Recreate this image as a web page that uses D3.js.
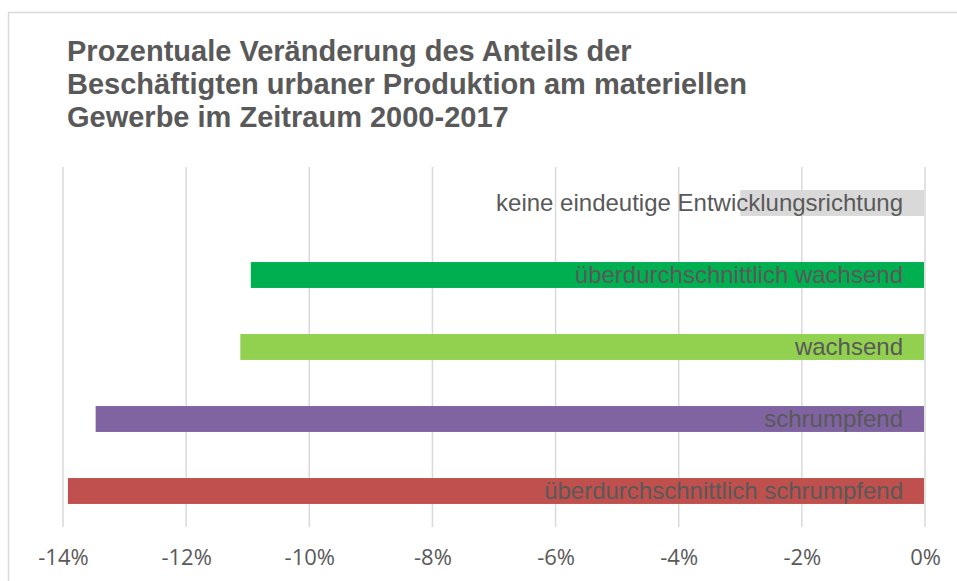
<!DOCTYPE html>
<html>
<head>
<meta charset="utf-8">
<script src="https://cdn.jsdelivr.net/npm/d3@7"></script>
<style>
  html, body { margin: 0; padding: 0; background: #fff; }
  svg { display: block; }
</style>
</head>
<body>
<svg id="chart" width="957" height="581"></svg>
<script>
// chart data
const categories = [
  'keine eindeutige Entwicklungsrichtung',
  'überdurchschnittlich wachsend',
  'wachsend',
  'schrumpfend',
  'überdurchschnittlich schrumpfend'
];
const values = [-3.0, -10.95, -11.12, -13.47, -13.92];
const barColors = ['#d9d9d9', '#00b050', '#92d050', '#8064a2', '#c0504d'];
const tickValues = [-14, -12, -10, -8, -6, -4, -2, 0];
const titleLines = [
  'Prozentuale Veränderung des Anteils der',
  'Beschäftigten urbaner Produktion am materiellen',
  'Gewerbe im Zeitraum 2000-2017'
];

const svg = d3.select('#chart');
const textColor = '#595959';

// outer frame (right/bottom edges fall outside the view)
svg.append('rect')
  .attr('x', 8.5).attr('y', 12.5)
  .attr('width', 1000).attr('height', 1000)
  .attr('fill', '#fff')
  .attr('stroke', '#d9d9d9')
  .attr('stroke-width', 1.5);

// title
svg.append('g')
  .selectAll('text')
  .data(titleLines)
  .enter()
  .append('text')
  .attr('x', 67)
  .attr('y', (d, i) => 61 + i * 33)
  .attr('fill', textColor)
  .style('font-family', '"Liberation Sans", Arial, sans-serif')
  .style('font-weight', 'bold')
  .style('font-size', '29px')
  .text(d => d);

const plot = {left: 63, right: 925, top: 167, bottom: 527};

const x = d3.scaleLinear()
  .domain([-14, 0])
  .range([plot.left, plot.right]);

const y = d3.scaleBand()
  .domain(categories)
  .range([plot.top, plot.bottom])
  .paddingInner(0.64)
  .paddingOuter(0.32);

// gridlines
svg.append('g')
  .selectAll('line')
  .data(tickValues)
  .enter()
  .append('line')
  .attr('x1', d => x(d)).attr('x2', d => x(d))
  .attr('y1', plot.top).attr('y2', plot.bottom)
  .attr('stroke', '#d9d9d9')
  .attr('stroke-width', 1.5);

// bars
svg.append('g')
  .selectAll('rect')
  .data(categories)
  .enter()
  .append('rect')
  .attr('x', (d, i) => x(values[i]))
  .attr('y', d => y(d))
  .attr('width', (d, i) => x(0) - 1 - x(values[i]))
  .attr('height', y.bandwidth())
  .attr('fill', (d, i) => barColors[i]);

// category labels inside bars, right aligned
svg.append('g')
  .selectAll('text')
  .data(categories)
  .enter()
  .append('text')
  .attr('x', x(0) - 22)
  .attr('y', d => y(d) + y.bandwidth() / 2)
  .attr('dy', '0.35em')
  .attr('text-anchor', 'end')
  .attr('fill', textColor)
  .style('font-family', '"Liberation Sans", Arial, sans-serif')
  .style('font-size', '24px')
  .text(d => d);

// x axis labels
const xAxis = d3.axisBottom(x)
  .tickValues(tickValues)
  .tickSize(0)
  .tickPadding(0)
  .tickFormat(d => d + '%');

const gx = svg.append('g')
  .attr('transform', 'translate(0,' + 549 + ')')
  .call(xAxis);
gx.select('.domain').remove();
gx.selectAll('text')
  .attr('fill', textColor)
  .style('font-family', '"Open Sans", sans-serif')
  .style('font-size', '22px');
</script>
</body>
</html>
